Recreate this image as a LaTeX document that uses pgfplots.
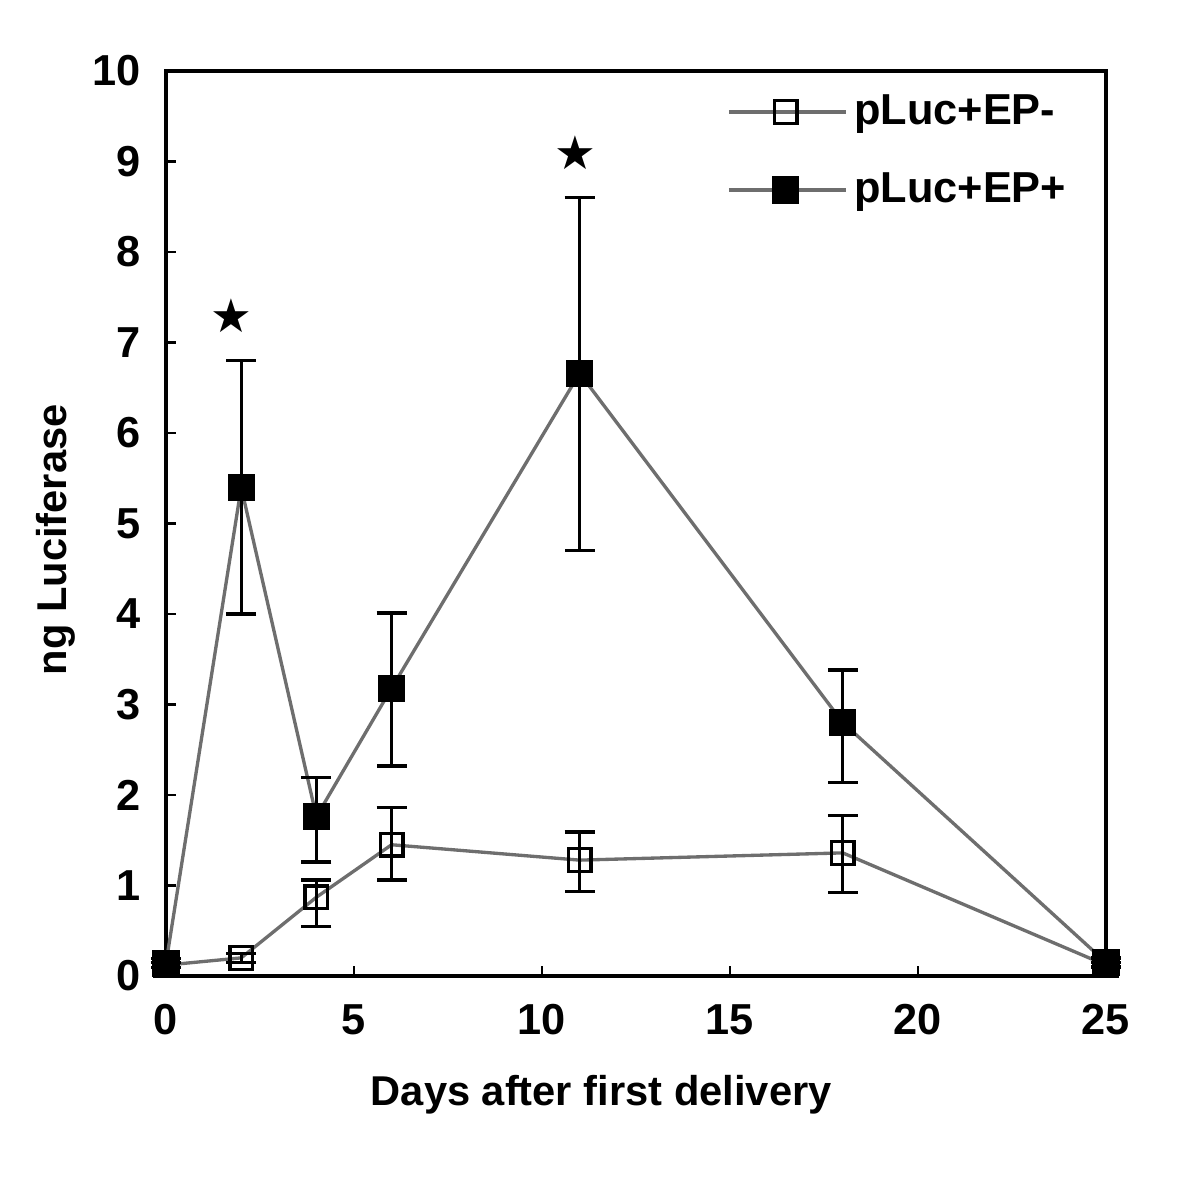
\documentclass[border=0pt]{standalone}
\usepackage{fontspec}
\setmainfont{Liberation Sans}
\setsansfont{Liberation Sans}
\newfontfamily\dejavu{DejaVu Sans}
\usepackage{pgfplots}
\usepackage{pgfplotstable}
\pgfplotsset{compat=1.18}
\definecolor{linegray}{HTML}{6E6E6E}
\pgfplotstableread{
x y ep em
0 0.14 0.05 0.05
2 5.40 1.40 1.40
4 1.76 0.43 0.50
6 3.18 0.83 0.86
11 6.66 1.94 1.96
18 2.80 0.58 0.66
25 0.15 0.05 0.05
}\epplus
\pgfplotstableread{
x y ep em
0 0.12 0.03 0.03
2 0.20 0.05 0.05
4 0.87 0.19 0.32
6 1.45 0.41 0.39
11 1.28 0.31 0.35
18 1.36 0.41 0.44
25 0.12 0.03 0.03
}\epminus
\begin{document}
\begin{tikzpicture}[x=1pt,y=1pt]
\path[use as bounding box] (0,0) rectangle (360,357.6);
\begin{axis}[
  at={(49.8pt,64.8pt)}, anchor=south west,
  width=282pt, height=271.5pt, scale only axis,
  xmin=0, xmax=25, ymin=0, ymax=10,
  xtick={0,5,...,25}, ytick={0,1,...,10},
  tick pos=left,
  tick align=inside, major tick length=3pt,
  tick style={black, line width=0.8pt},
  axis line style={line width=1pt},
  /pgf/number format/assume math mode=true,
  ticklabel style={font=\bfseries\fontsize{13}{13}\selectfont},
  xticklabel style={yshift=-5pt},
  yticklabel style={xshift=-4pt},
  xlabel={Days after first delivery},
  ylabel={ng Luciferase},
  label style={font=\bfseries\fontsize{12.5}{12.5}\selectfont},
  xlabel style={at={(axis description cs:0.463,-0.1315)}, anchor=center},
  ylabel style={at={(axis description cs:-0.117,0.482)}, anchor=center},
  clip=false,
  legend style={draw=none, fill=none, at={(axis description cs:0.596,0.982)}, anchor=north west,
    font=\bfseries\fontsize{13}{13}\selectfont, row sep=9pt, inner sep=0pt},
  legend cell align=left,
  legend image code/.code={
    \draw[linegray, line width=1.2pt] (0pt,0pt) -- (35pt,0pt);
    \draw[only marks] plot coordinates {(17pt,0pt)};
  },
  error bars/y dir=both, error bars/y explicit,
  error bars/error bar style={black, line width=1pt},
  error bars/error mark options={rotate=90, mark size=4.5pt, line width=1pt, black},
]
\addplot[linegray, line width=1pt, mark=square, mark size=3.4pt, mark options={black, line width=1pt}]
  table[x=x, y=y, y error plus=ep, y error minus=em] {\epminus};
\addlegendentry{pLuc+EP-}
\addplot[linegray, line width=1pt, mark=square*, mark size=3.6pt, mark options={black, fill=black, line width=1pt}]
  table[x=x, y=y, y error plus=ep, y error minus=em] {\epplus};
\addlegendentry{pLuc+EP+}
\node[font=\dejavu\fontsize{14}{14}\selectfont] at (axis cs:1.75,7.3) {★};
\node[font=\dejavu\fontsize{14}{14}\selectfont] at (axis cs:10.9,9.1) {★};
\end{axis}
\end{tikzpicture}
\end{document}
